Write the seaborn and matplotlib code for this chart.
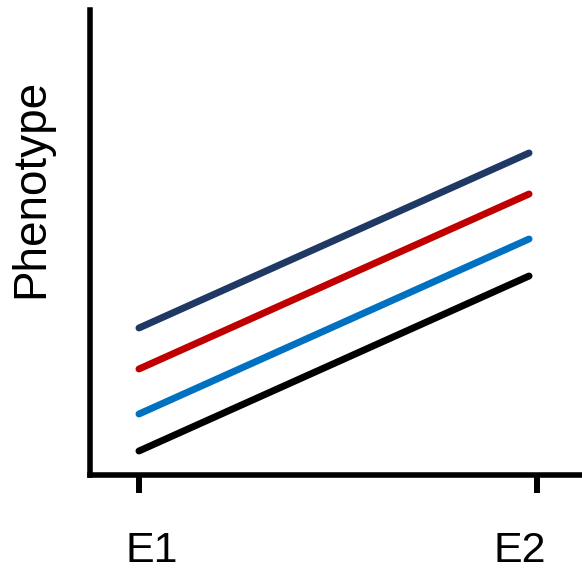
import numpy as np
import pandas as pd
import matplotlib
matplotlib.use("Agg")
import matplotlib.pyplot as plt
import matplotlib.transforms as mtransforms
import seaborn as sns

# --- data ---
env_labels = ["E1", "E2"]
env_ticks = [1, 2]
x_pts = [1.0, 1.98]
navy = [1.47, 3.22]
red = [1.06, 2.81]
blue = [0.61, 2.36]
black = [0.24, 1.99]

genotypes = ["G1", "G2", "G3", "G4"]
series = [navy, red, blue, black]
colors = ["#1F3864", "#C00000", "#0070C0", "#000000"]

rows = []
for g, vals in zip(genotypes, series):
    for x, v in zip(x_pts, vals):
        rows.append({"env": x, "phenotype": v, "genotype": g})
df = pd.DataFrame(rows)

sns.set_style("white")
plt.rcParams["font.family"] = ["Liberation Sans", "DejaVu Sans"]
plt.rcParams["text.color"] = "black"
plt.rcParams["axes.labelcolor"] = "black"
plt.rcParams["xtick.color"] = "black"

fig = plt.figure(figsize=(5.82, 5.74), dpi=100)
ax = fig.add_axes([90 / 582, 99 / 574, 492 / 582, 465 / 574])

sns.lineplot(data=df, x="env", y="phenotype", hue="genotype",
             palette=dict(zip(genotypes, colors)), linewidth=5,
             solid_capstyle="round", legend=False, ax=ax, sort=False)

ax.set_xlim(0.877, 2.113)
ax.set_ylim(0, 4.65)
ax.set_xticks(env_ticks)
ax.set_xticklabels(env_labels)
ax.set_yticks([])
ax.set_xlabel("")
ax.set_ylabel("Phenotype", fontsize=33, color="black")
ax.yaxis.set_label_coords(-0.075, 0.617)

for side in ["top", "right"]:
    ax.spines[side].set_visible(False)
for side in ["left", "bottom"]:
    ax.spines[side].set_linewidth(4)
    ax.spines[side].set_color("black")

ax.tick_params(axis="x", bottom=True, direction="out", length=13, width=4.3,
               color="black", labelcolor="black", labelsize=31, pad=27)

# labels in the original sit a little off their ticks
for lab, dx in zip(ax.get_xticklabels(), [13, -17]):
    lab.set_transform(lab.get_transform() +
                      mtransforms.ScaledTranslation(dx / 100, 0, fig.dpi_scale_trans))

fig.savefig("out.png", dpi=100)
